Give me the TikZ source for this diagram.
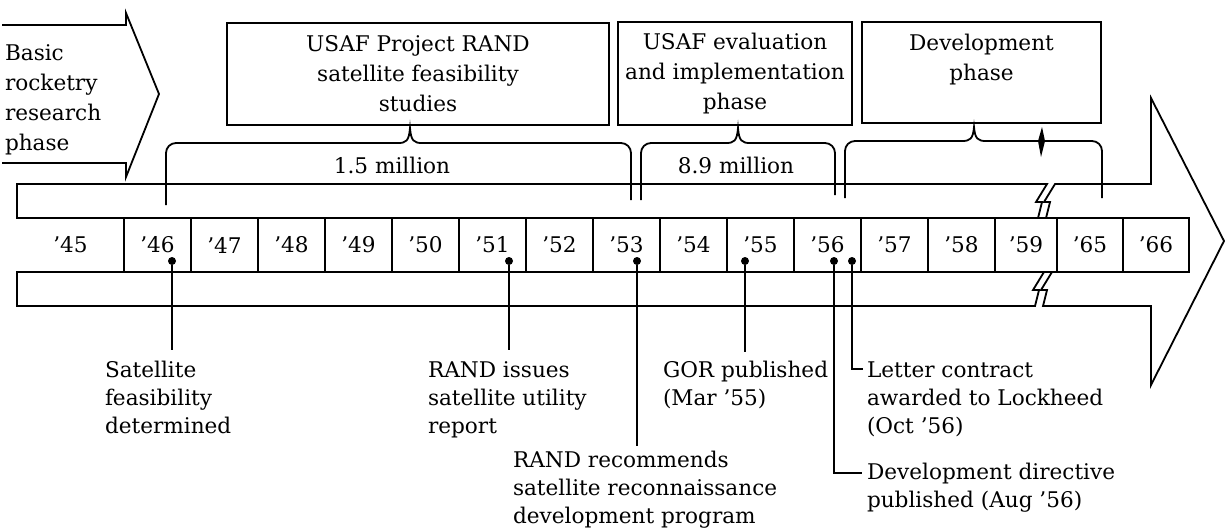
\documentclass[tikz,border=0pt]{standalone}
\usepackage{fontspec}
\setmainfont{DejaVu Serif}
\usetikzlibrary{positioning}

\begin{document}
\begin{tikzpicture}[x=0.5pt, y=-0.5pt, line width=0.9pt, inner sep=0pt,
    outer sep=0pt, font=\fontsize{10.8}{15}\selectfont]

  \tikzstyle{phase}=[draw, align=center]
  \tikzstyle{year}=[draw, minimum width=33.5pt, minimum height=27pt]
  \tikzstyle{event}=[circle, fill, minimum size=4pt]
  \tikzstyle{note}=[anchor=base west, align=left, font=\fontsize{10.8}{14}\selectfont]
  \tikzstyle{cost}=[anchor=base]

  \useasboundingbox (0,0) rectangle (1225,530);

  % research phase arrow (base = last line)
  \node[anchor=base west, align=left] (BASIC) at (5,150) {Basic\\rocketry\\research\\phase};
  \draw (2,25) -- (126,25) -- (126,13) -- (159,94) -- (126,177) -- (126,163) -- (2,163);

  % phase boxes
  \node[phase, minimum width=191pt, minimum height=51pt] (RAND) at (418,74)
    {USAF Project RAND\\satellite feasibility\\studies};
  \node[phase, minimum width=117pt, minimum height=51.5pt] (EVAL) at (735,73.5)
    {USAF evaluation\\and implementation\\phase};
  \node[phase, minimum width=119.5pt, minimum height=50.5pt] (DEV) at (981.5,72.5)
    {Development\\phase\\\mbox{}};

  % braces and funding
  \draw[rounded corners=5pt] (166,205) -- (166,143) -- (398,143);
  \draw (398,143) .. controls (406,143) and (409,141) .. (410,128)
    .. controls (411,141) and (414,143) .. (422,143);
  \draw[rounded corners=5pt] (422,143) -- (631,143) -- (631,200);
  \node[cost] (COST1) at (392,173) {1.5 million};

  \draw[rounded corners=5pt] (641,200) -- (641,143) -- (726,143);
  \draw (726,143) .. controls (734,143) and (737,141) .. (738,128)
    .. controls (739,141) and (742,143) .. (750,143);
  \draw[rounded corners=5pt] (750,143) -- (835,143) -- (835,195);
  \node[cost] (COST2) at (736,173) {8.9 million};

  \draw[rounded corners=5pt] (845,198) -- (845,141) -- (962,141);
  \draw (962,141) .. controls (970,141) and (973,139) .. (974,127)
    .. controls (975,139) and (978,141) .. (986,141) -- (1038,141);
  \fill (1042,127) -- (1045,141) -- (1041,157) -- (1038,141) -- cycle;
  \draw[rounded corners=5pt] (1045,141) -- (1102,141) -- (1102,198);

  % timeline arrow
  \draw (124,218) -- (17,218) -- (17,184) -- (1047,184) -- (1036,202)
    -- (1042,202) -- (1038,218);
  \draw (1046,218) -- (1050,202) -- (1044,202) -- (1055,184) -- (1151,184)
    -- (1151,98) -- (1224,241) -- (1151,385) -- (1151,306) -- (1043,306)
    -- (1047,290) -- (1041,290) -- (1052,272);
  \draw (1044,272) -- (1033,290) -- (1039,290) -- (1035,306) -- (17,306)
    -- (17,272) -- (124,272);

  % years
  \node (Y45) at (70.5,245) {’45};
  \node[year] (Y46) at (157.5,245) {’46};
  \node[year, right=0pt of Y46] (Y47) {’47};
  \node[year, right=0pt of Y47] (Y48) {’48};
  \node[year, right=0pt of Y48] (Y49) {’49};
  \node[year, right=0pt of Y49] (Y50) {’50};
  \node[year, right=0pt of Y50] (Y51) {’51};
  \node[year, right=0pt of Y51] (Y52) {’52};
  \node[year, right=0pt of Y52] (Y53) {’53};
  \node[year, right=0pt of Y53] (Y54) {’54};
  \node[year, right=0pt of Y54] (Y55) {’55};
  \node[year, right=0pt of Y55] (Y56) {’56};
  \node[year, right=0pt of Y56] (Y57) {’57};
  \node[year, right=0pt of Y57] (Y58) {’58};
  \node[year, right=0pt of Y58, minimum width=31pt] (Y59) {’59};
  \node[year, right=0pt of Y59, minimum width=33pt] (Y65) {’65};
  \node[year, right=0pt of Y65, minimum width=33pt] (Y66) {’66};

  % events
  \node[event] (E46) at (172,261) {};
  \node[event] (E51) at (509,261) {};
  \node[event] (E53) at (637,261) {};
  \node[event] (E55) at (745,261) {};
  \node[event] (E56D) at (834,261) {};
  \node[event] (E56L) at (852,261) {};

  % notes (base = last line)
  \node[note] (SAT) at (105,433) {Satellite\\feasibility\\determined};
  \node[note] (UTIL) at (428,433) {RAND issues\\satellite utility\\report};
  \node[note] (GOR) at (663,405) {GOR published\\(Mar ’55)};
  \node[note] (LOCK) at (867,433) {Letter contract\\awarded to Lockheed\\(Oct ’56)};
  \node[note] (RECO) at (513,523) {RAND recommends\\satellite reconnaissance\\development program};
  \node[note] (DIR) at (867,507) {Development directive\\published (Aug ’56)};

  \coordinate (T46) at (172,350);
  \coordinate (T51) at (509,350);
  \coordinate (T53) at (637,446);
  \coordinate (T55) at (745,352);
  \coordinate (T56D) at (862,473);
  \coordinate (T56L) at (863,369);

  \draw (E46) -- (T46);
  \draw (E51) -- (T51);
  \draw (E53) -- (T53);
  \draw (E55) -- (T55);
  \draw (E56D) |- (T56D);
  \draw (E56L) |- (T56L);
\end{tikzpicture}
\end{document}
